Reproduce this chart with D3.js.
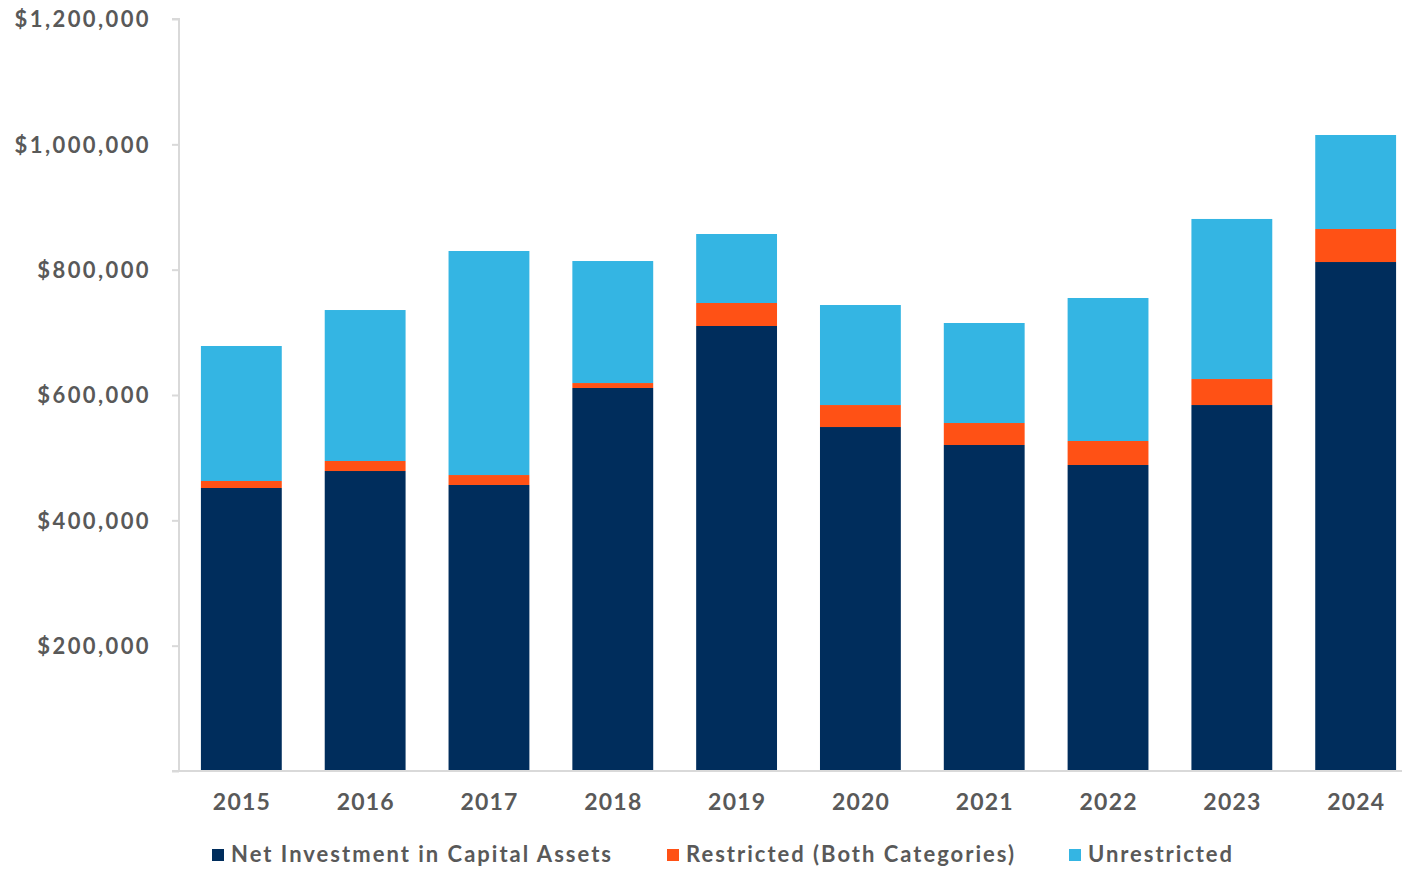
<!DOCTYPE html>
<html>
<head>
<meta charset="utf-8">
<script src="https://cdn.jsdelivr.net/npm/d3@7"></script>
<style>
  html, body { margin: 0; padding: 0; background: #fff; }
  svg { display: block; }
  text { font-family: Lato, "Open Sans", sans-serif; font-weight: 700; fill: #595959; }
</style>
</head>
<body>
<svg id="chart" width="1402" height="869"></svg>
<script>
const years = ["2015","2016","2017","2018","2019","2020","2021","2022","2023","2024"];
const netInvestment = [451600, 478700, 456400, 611200, 710100, 548900, 520200, 488300, 584000, 812200];
const restricted    = [11200, 16000, 15900, 7900, 36700, 35100, 35100, 38300, 41500, 52700];
const unrestricted  = [215400, 240900, 357500, 194700, 110100, 159600, 159600, 228200, 255400, 150000];
const seriesNames = ["Net Investment in Capital Assets", "Restricted (Both Categories)", "Unrestricted"];
const seriesColors = ["#002D5C", "#FF5115", "#34B5E3"];
const yTicks = [0, 200000, 400000, 600000, 800000, 1000000, 1200000];

const svg = d3.select("#chart");
const x0 = 179, x1 = 1418, yTop = 19, yBottom = 771;

const x = d3.scaleBand().domain(years).range([x0, x1]).paddingInner(0.347).paddingOuter(0.177);
const y = d3.scaleLinear().domain([0, 1200000]).range([yBottom, yTop]);

const rows = years.map((yr, i) => ({year: yr, a: netInvestment[i], b: restricted[i], c: unrestricted[i]}));
const stack = d3.stack().keys(["a","b","c"]);
const stacked = stack(rows);

svg.append("g").selectAll("g").data(stacked).join("g")
  .attr("fill", (d, i) => seriesColors[i])
  .selectAll("rect").data(d => d).join("rect")
  .attr("x", d => x(d.data.year))
  .attr("width", x.bandwidth())
  .attr("y", d => y(d[1]))
  .attr("height", d => y(d[0]) - y(d[1]));

// Y axis
const yAxis = d3.axisLeft(y).tickValues(yTicks).tickSize(7).tickPadding(21)
  .tickFormat(d => d === 0 ? "" : "$" + d3.format(",")(d));
const gy = svg.append("g").attr("transform", `translate(${x0},0)`).call(yAxis);
gy.select(".domain").attr("stroke", "#d9d9d9").attr("stroke-width", 2).attr("d", `M-7,${yTop}H0V${yBottom}`);
gy.selectAll(".tick line").attr("stroke", "#d9d9d9").attr("stroke-width", 2);
gy.selectAll(".tick text").style("font-size", "22px").style("letter-spacing", "2.4px")
  .attr("fill", "#595959").attr("dy", "0.35em");

// X axis line
svg.append("line").attr("x1", 172).attr("x2", 1402).attr("y1", yBottom).attr("y2", yBottom)
  .attr("stroke", "#d9d9d9").attr("stroke-width", 2);

// X labels
svg.append("g").selectAll("text").data(years).join("text")
  .attr("x", d => x(d) + x.bandwidth() / 2 + 0.6)
  .attr("y", 810)
  .attr("text-anchor", "middle")
  .style("font-size", "23px")
  .style("letter-spacing", "1.2px")
  .text(d => d);

// Legend
const legendX = [212, 667, 1069];
const legendLen = [380, 328, 144];
const lg = svg.append("g").selectAll("g").data(seriesNames).join("g")
  .attr("transform", (d, i) => `translate(${legendX[i]},849)`);
lg.append("rect").attr("width", 12).attr("height", 12).attr("fill", (d, i) => seriesColors[i]);
lg.append("text").attr("x", 19).attr("y", 13).style("font-size", "22px")
  .attr("textLength", (d, i) => legendLen[i]).attr("lengthAdjust", "spacing").text(d => d);
</script>
</body>
</html>
